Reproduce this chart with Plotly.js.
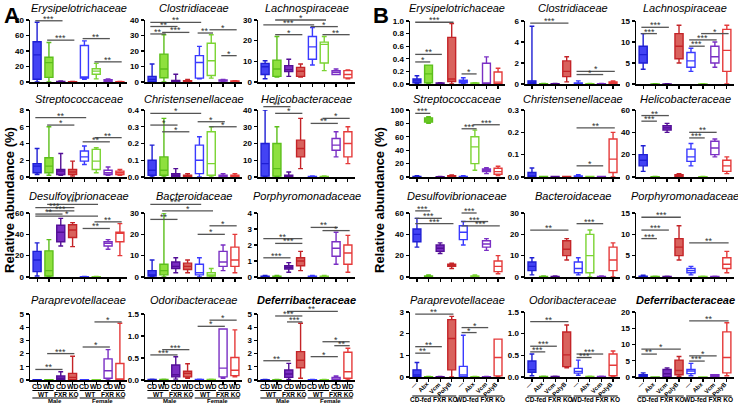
<!DOCTYPE html>
<html><head><meta charset="utf-8">
<script src="https://cdn.plot.ly/plotly-3.0.1.min.js"></script>
<style>html,body{margin:0;padding:0;background:#fff}#chart{width:738px;height:404px}</style>
</head><body><div id="chart"></div>
<script>
// ---------------- categories & tick labels ----------------
const ticksA = ['CD','WD','CD','WD','CD','WD','CD','WD'];
const ticksB = ['\u2014','Abx','Vcm','PolyB','\u2014','Abx','Vcm','PolyB'];
const titlesA = ['Erysipelotrichaceae','Clostridiaceae','Lachnospiraceae','Streptococcaceae','Christensenellaceae','Helicobacteraceae','Desulfovibrionaceae','Bacteroidaceae','Porphyromonadaceae','Paraprevotellaceae','Odoribacteraceae','Deferribacteraceae'];
const titlesB = titlesA.slice();

// ---------------- box statistics [lower, q1, median, q3, upper] ----------------
// Panel A
const A_Erysipelotrichaceae = [[0,3.5,35,52,77],[0,6,25,32,51],[0,0,0.3,0.8,1.5],[0,0,0.1,0.3,0.6],[3.5,5,6.5,47,53],[4,10,14,17,24],[0,1,2,3,4],[0,0,0.1,0.3,0.6]];
const A_Clostridiaceae = [[0,0.4,1.7,3.6,11.6],[0,2.7,8.4,18,30.5],[0,0.1,0.4,1,5],[0,0.1,0.3,0.8,1.7],[2,2.5,12.6,17,23],[2.5,4.2,13.7,25,30.5],[0,0.6,1,1.4,1.6],[0,0.1,0.3,0.6,0.9]];
const A_Lachnospiraceae = [[1.6,3.6,7.4,9,10.3],[2.4,2.7,6.3,10.6,22],[2.7,5,6,7.9,11],[2.4,2.7,5.2,7.1,8.7],[8.2,11,17,22,26.4],[5.5,9.2,18.2,19.3,22],[3.6,3.6,4.7,5.5,6.3],[1.6,2,3.6,5.5,5.8]];
const A_Streptococcaceae = [[0.3,0.5,1.3,1.6,3.4],[0.2,0.5,1.3,2.3,6],[0.2,0.3,0.7,0.9,2.8],[0.1,0.3,0.6,0.9,1.9],[1.5,1.9,2.4,3.1,3.7],[0.5,0.9,1.9,3.3,3.5],[0.2,0.3,0.5,0.8,1.2],[0.2,0.3,0.5,0.7,0.9]];
const A_Christensenellaceae = [[0,0.01,0.04,0.1,0.19],[0,0.01,0.04,0.12,0.35],[0,0,0.01,0.02,0.05],[0,0,0.005,0.01,0.02],[0,0.02,0.1,0.19,0.24],[0,0.01,0.08,0.27,0.3],[0,0,0.005,0.01,0.02],[0,0,0.005,0.01,0.02]];
const A_Helicobacteraceae = [[0,0.5,8,20,40],[0,0.5,5,20,30],[0,0.2,0.5,1,3],[5,12,17,22,35],[0,0,0.1,0.3,0.6],[0,0,0.1,0.3,0.6],[12,16,19,23,27],[8,12,20,27,30]];
const A_Desulfovibrionaceae = [[1,5,16,24,32],[0,1,6,24.5,35],[29,33,42,48.5,55],[28.5,37,44,49,51],[0,0,0.1,0.3,0.6],[0,0,0.1,0.3,0.6],[26,29,31.5,33,35],[20,33,41,42,50]];
const A_Bacteroidaceae = [[0,0.5,1,3,8],[0,1,3,6,30],[2,4,5,7,9],[2,3.5,5,6.5,8],[0,1,2,6,9],[0,0.5,1,2,4],[3,5,7,12,15],[2,5,8,14,20]];
const A_Porphyromonadaceae = [[0,0,0.02,0.05,0.1],[0,0,0.02,0.05,0.1],[0.3,0.5,0.6,0.7,0.9],[0.4,0.7,1,1.2,1.6],[0,0,0.02,0.05,0.1],[0,0,0.02,0.05,0.1],[0.8,1.3,1.8,2.2,2.8],[0.3,0.8,1.5,2,2.6]];
const A_Paraprevotellaceae = [[0,0,0.01,0.02,0.03],[0,0,0.01,0.02,0.03],[0,0.05,0.13,0.3,0.63],[0,0.02,0.2,0.5,1.8],[0,0,0.01,0.02,0.03],[0,0,0.01,0.02,0.03],[0,0.13,0.7,1.6,2.3],[0,0,0.01,1.25,4.3]];
const A_Odoribacteraceae = [[0,0,0.005,0.01,0.02],[0,0,0.005,0.01,0.02],[0.02,0.07,0.12,0.34,0.53],[0.04,0.07,0.15,0.2,0.37],[0,0,0.005,0.01,0.02],[0,0,0.005,0.01,0.02],[0.04,0.07,0.27,1.16,1.16],[0.07,0.1,0.22,0.51,1.14]];
const A_Deferribacteraceae = [[0,0,0.01,0.02,0.04],[0,0,0.01,0.02,0.04],[0.05,0.2,0.45,0.76,1.26],[0.13,0.93,1.5,2.15,4.3],[0,0,0.01,0.02,0.04],[0,0,0.01,0.02,0.04],[0,0.01,0.03,0.2,0.3],[0,0.13,0.63,2.1,2.4]];
// Panel B
const B_Erysipelotrichaceae = [[0.01,0.02,0.05,0.08,0.13],[0,0.02,0.16,0.3,0.3],[0,0.005,0.01,0.015,0.02],[0,0.04,0.08,0.74,0.96],[0,0.02,0.04,0.06,0.1],[0,0.005,0.01,0.015,0.02],[0,0,0.005,0.33,0.43],[0,0.005,0.03,0.19,0.25]];
const B_Clostridiaceae = [[0,0.05,0.1,0.3,5.5],[0,0,0.01,0.02,0.05],[0,0,0.01,0.02,0.05],[0.2,0.7,1.2,2.2,2.6],[0,0.02,0.05,0.1,0.3],[0,0,0.01,0.02,0.05],[0,0,0.01,0.02,0.05],[0,0.05,0.1,0.2,0.3]];
const B_Lachnospiraceae = [[3.5,5,7,9,12],[0,0,0.01,0.02,0.05],[0,0,0.01,0.02,0.05],[5,6,9,12,14],[3,4,5.5,7.5,8.5],[0,0,0.01,0.02,0.05],[4,5,6.5,9,10],[0,3,8,13,14]];
const B_Streptococcaceae = [[0,0,0.5,1,2],[80,82,85,88,90],[0,0,0.2,0.5,1],[0,0.5,1,2,3],[0,0,0.5,1,2],[10,20,45,60,70],[5,8,10,12,14],[2,4,8,13,16]];
const B_Christensenellaceae = [[0,0,0.005,0.02,0.04],[0,0,0.001,0.002,0.003],[0,0,0.001,0.002,0.003],[0,0,0.001,0.002,0.003],[0,0,0.002,0.005,0.01],[0,0,0.001,0.002,0.003],[0,0,0.001,0.002,0.003],[0,0.02,0.08,0.17,0.2]];
const B_Helicobacteraceae = [[5,10,15,20,28],[0,0,0.1,0.3,0.5],[40,42,44,46,48],[0,0.5,1,2,3],[10,14,18,25,30],[0,0,0.1,0.3,0.5],[18,20,26,32,34],[3,5,10,15,18]];
const B_Desulfovibrionaceae = [[28,33,40,45,55],[0,0,0.5,1,2],[22,24,27,30,32],[8,10,11,12,13],[30,35,42,48,52],[0,0,0.5,1,2],[25,28,31,34,36],[3,5,10,15,20]];
const B_Bacteroidaceae = [[1,3,5,7,9],[0,0,0.1,0.3,0.5],[0,0,0.1,0.3,0.5],[8,10,13,17,18],[1,2,4,7,9],[0,2,10,20,22],[0,0,0.1,0.3,0.5],[0,3,8,14,16]];
const B_Porphyromonadaceae = [[0,0,0.1,0.2,0.4],[0,0,0.05,0.1,0.2],[0,0,0.05,0.1,0.2],[4,5,7,9,12],[0.5,1,1.5,2,2.5],[0,0,0.05,0.1,0.2],[0,0,0.05,0.1,0.2],[1,2,3,4.5,6]];
const B_Paraprevotellaceae = [[0,0.02,0.1,0.33,0.67],[0,0,0.005,0.01,0.02],[0,0,0.005,0.01,0.02],[0,0.33,1.78,2.65,2.8],[0,0.02,0.1,0.49,1.93],[0,0,0.005,0.01,0.02],[0,0,0.005,0.01,0.02],[0,0.05,0.9,1.75,1.75]];
const B_Odoribacteraceae = [[0.03,0.11,0.17,0.37,0.53],[0,0,0.005,0.01,0.02],[0,0,0.005,0.01,0.02],[0.21,0.24,0.51,1.04,1.2],[0.04,0.09,0.13,0.2,0.39],[0,0,0.005,0.01,0.02],[0,0,0.005,0.01,0.02],[0,0.03,0.27,0.53,0.6]];
const B_Deferribacteraceae = [[0,0.2,0.42,0.74,1.26],[0,0,0.01,0.02,0.05],[0,0.1,1,2.3,2.8],[0.2,0.7,2,5.2,6.3],[0.4,1.05,1.8,2.3,4.2],[0,0,0.01,0.02,0.05],[0,0.05,0.2,0.74,0.74],[0.4,1.26,6,13.9,16.7]];

// ---------------- significance brackets [from, to, level, label] ----------------
const A_sig = [
  [[0,2,79,'***'],[1,3,54,'***'],[4,6,56,'**'],[5,7,26,'**']],
  [[0,4,38.5,'**'],[0,2,35.8,'**'],[0,1,31,'**'],[1,3,32,'***'],[4,5,31.6,'**'],[5,7,33.7,'*'],[6,7,17,'*']],
  [[1,5,30,'*'],[0,4,27.6,'***'],[4,6,26.8,'*'],[1,3,22.9,'*'],[5,7,22.9,'**']],
  [[0,4,7.1,'**'],[1,3,6.2,'*'],[4,6,4.2,'**'],[5,7,4.7,'**']],
  [[0,4,0.38,'*'],[0,2,0.31,'*'],[1,3,0.27,'*'],[4,6,0.33,'*'],[5,7,0.3,'*']],
  [[0,4,45,'*'],[0,2,42,'**'],[1,3,38,'*'],[4,6,32,'**'],[5,7,35,'*']],
  [[1,5,68,'***'],[0,3,65,'***'],[1,3,62,'***'],[0,2,59,'**'],[0,5,57,'*'],[5,7,51.7,'**'],[4,6,45.5,'**']],
  [[0,4,34,'***'],[1,5,31,'*'],[0,2,27,'**'],[4,6,20,'*'],[5,7,24,'*']],
  [[0,2,1.2,'***'],[1,3,2.1,'***'],[0,3,2.4,'**'],[4,6,3.1,'**'],[5,7,2.9,'*']],
  [[0,2,0.8,'**'],[1,3,2.0,'***'],[4,6,2.5,'*'],[5,7,4.4,'*']],
  [[0,2,0.57,'***'],[1,3,0.69,'***'],[4,6,1.22,'*'],[5,7,1.36,'*']],
  [[2,6,5.2,'**'],[1,3,4.85,'***'],[2,3,4.4,'***'],[0,2,1.46,'**'],[4,6,1.77,'*'],[5,7,2.9,'*'],[6,7,2.6,'**']]
];
const B_sig = [
  [[0,3,0.98,'***'],[0,2,0.47,'**'],[0,1,0.35,'*'],[4,5,0.16,'*']],
  [[0,3,5.8,'***'],[4,6,0.9,'*'],[4,7,1.2,'*']],
  [[0,1,12,'***'],[0,2,13.5,'***'],[4,5,9,'***'],[4,6,10.5,'***'],[5,7,12,'*']],
  [[0,1,95,'***'],[4,5,72,'***'],[5,7,78,'***']],
  [[4,7,0.22,'**'],[4,6,0.05,'*']],
  [[0,2,55,'**'],[0,1,50,'***'],[4,6,40,'**'],[4,5,35,'***']],
  [[0,1,62,'***'],[0,2,55,'***'],[0,3,50,'***'],[4,5,60,'***'],[4,6,52,'***'],[4,7,48,'***']],
  [[0,3,22,'**'],[4,6,25,'***']],
  [[0,3,14,'***'],[0,2,11,'***'],[0,1,9,'***'],[4,7,8,'**']],
  [[0,3,2.9,'**'],[0,2,1.4,'**'],[0,1,1.1,'**'],[4,6,2.28,'*'],[4,5,2.05,'*']],
  [[0,3,1.28,'**'],[0,2,0.71,'***'],[0,1,0.58,'***'],[4,6,0.53,'***'],[4,5,0.45,'***']],
  [[0,3,8.6,'*'],[0,1,7.05,'**'],[4,7,17.3,'**'],[4,6,6.5,'*'],[4,5,4.9,'***']]
];

// ---------------- axis scales ----------------
const yMaxA = [80,40,30,8,0.4,40,60,30,4,5,1.5,5];
const dtickA = [20,10,10,2,0.1,10,20,10,1,1,0.5,1];
const yMaxB = [1,6,15,100,0.3,60,60,30,15,3,1.5,20];
const dtickB = [0.2,2,5,20,0.1,20,20,10,5,1,0.5,5];

const panelA = [A_Erysipelotrichaceae,A_Clostridiaceae,A_Lachnospiraceae,A_Streptococcaceae,A_Christensenellaceae,A_Helicobacteraceae,A_Desulfovibrionaceae,A_Bacteroidaceae,A_Porphyromonadaceae,A_Paraprevotellaceae,A_Odoribacteraceae,A_Deferribacteraceae];
const panelB = [B_Erysipelotrichaceae,B_Clostridiaceae,B_Lachnospiraceae,B_Streptococcaceae,B_Christensenellaceae,B_Helicobacteraceae,B_Desulfovibrionaceae,B_Bacteroidaceae,B_Porphyromonadaceae,B_Paraprevotellaceae,B_Odoribacteraceae,B_Deferribacteraceae];

// ---------------- styling / layout ----------------
const W = 738, H = 404;
const FONT = 'Liberation Sans, Arial, sans-serif';
const fillCol = ['#4343f4','#8ee03e','#7a2dc2','#d9625d'];
const lineFilled = ['#1f1fd4','#5cbf1b','#530f96','#c42428'];
const lineOpen = ['#3a3aff','#7bd433','#7a2fc4','#e53a3a'];
const colsA = [[30,127],[145,242],[258,355]];
const colsB = [[410,505],[525,620],[636,734]];
const rowsA = [[20,82],[110,177],[213,277],[314,380]];
const rowsB = [[21,84],[110,177],[213,277],[312,377]];
const titleY = [8,99,196,300];

const traces = [];
const layout = {
  width: W, height: H, margin: {l:0, r:0, t:0, b:0}, showlegend: false,
  boxmode: 'overlay', paper_bgcolor: '#fff', plot_bgcolor: 'rgba(0,0,0,0)',
  font: {family: FONT, color: '#000'}, annotations: [], shapes: []
};

function fmtFor(d){ return d < 1 ? '.1f' : 'd'; }
const yp = v => 1 - v/H;

[[panelA, titlesA, A_sig, yMaxA, dtickA, colsA, rowsA, ticksA],
 [panelB, titlesB, B_sig, yMaxB, dtickB, colsB, rowsB, ticksB]].forEach((P, p) => {
  const [data, titles, sig, yMax, dtick, cols, rows, tks] = P;
  for (let s = 0; s < 12; s++) {
    const idx = p*12 + s, n = idx + 1, nb = idx + 25;
    const r = Math.floor(s/3), c = s % 3;
    const [x0, x1] = cols[c], [top, bot] = rows[r];
    const dom = [x0/W, x1/W];
    const last = r === 3;
    layout['xaxis'+n] = {
      domain: dom, range: [-0.6, 7.6], anchor: 'y'+n, type: 'linear',
      showline: true, linecolor: '#000', linewidth: 1.5,
      ticks: 'outside', ticklen: 3, tickwidth: 1.2, tickcolor: '#000',
      tickmode: 'array', tickvals: [0,1,2,3,4,5,6,7], showticklabels: false,
      showgrid: false, zeroline: false, fixedrange: true
    };
    layout['yaxis'+n] = {
      domain: [1-bot/H, 1-top/H], range: [0, yMax[s]], anchor: 'x'+n,
      showline: true, linecolor: '#000', linewidth: 1.5,
      ticks: 'outside', ticklen: 3, tickwidth: 1.2, tickcolor: '#000',
      tick0: 0, dtick: dtick[s], tickformat: fmtFor(dtick[s]),
      tickfont: {family: FONT, size: 8, weight: 'bold', color: '#000'},
      showgrid: false, zeroline: false, fixedrange: true
    };
    // overlay axes for brackets (same scale, taller area)
    const btop = titleY[r] + 7;
    const ext = yMax[s] * (bot - btop) / (bot - top);
    layout['xaxis'+nb] = {domain: dom, range: [-0.6, 7.6], anchor: 'y'+nb, visible: false, fixedrange: true};
    layout['yaxis'+nb] = {domain: [1-bot/H, 1-btop/H], range: [0, ext], anchor: 'x'+nb, visible: false, fixedrange: true};

    // boxes
    data[s].forEach((b, k) => {
      const g = k % 4, filled = k < 4;
      traces.push({
        type: 'box', x: [k], lowerfence: [b[0]], q1: [b[1]], median: [b[2]], q3: [b[3]], upperfence: [b[4]],
        xaxis: 'x'+n, yaxis: 'y'+n, width: 0.68, whiskerwidth: 0.6,
        line: {color: filled ? lineFilled[g] : lineOpen[g], width: 1.4},
        fillcolor: filled ? fillCol[g] : '#ffffff',
        boxpoints: false, hoverinfo: 'skip'
      });
    });
    // brackets
    const bx = [], by = [];
    sig[s].forEach(([i, j, yv, lab]) => {
      bx.push(i - 0.15, j + 0.15, null); by.push(yv, yv, null);
      layout.annotations.push({xref: 'x'+nb, yref: 'y'+nb, x: (i+j)/2, y: yv, text: lab,
        showarrow: false, yanchor: 'bottom', yshift: -5,
        font: {family: FONT, size: 9, color: '#333'}});
    });
    traces.push({type: 'scatter', mode: 'lines', x: bx, y: by, xaxis: 'x'+nb, yaxis: 'y'+nb,
      line: {color: '#555', width: 1.3}, hoverinfo: 'skip', connectgaps: false});

    // subplot title
    layout.annotations.push({xref: 'paper', yref: 'paper', x: (x0+x1)/2/W, y: 1 - titleY[r]/H,
      text: '<i>' + titles[s] + '</i>', showarrow: false, xanchor: 'center', yanchor: 'middle',
      font: {family: FONT, size: 11, color: '#000', weight: s === 11 ? 'bold' : 'normal'}});

    // category labels and group labels under the bottom row
    if (last) {
      const line = (xa, xb, yv) => layout.shapes.push({type: 'line', xref: 'x'+n, yref: 'paper',
        x0: xa, x1: xb, y0: yp(yv), y1: yp(yv), line: {color: '#000', width: 1}});
      const txt = (xv, yv, t, sz) => layout.annotations.push({xref: 'x'+n, yref: 'paper', x: xv, y: yp(yv),
        text: t, showarrow: false, xanchor: 'center', yanchor: 'middle', borderpad: 0,
        font: {family: FONT, size: sz, weight: 'bold', color: '#000'}});
      if (p === 0) {
        tks.forEach((t, k) => txt(k, 386, t, 7));
        [[0,1,'WT'],[2,3,'FXR KO'],[4,5,'WT'],[6,7,'FXR KO']].forEach(([a,b,t]) => { line(a-0.4, b+0.4, 390.5); txt((a+b)/2, 394, t, 6.5); });
        [[0,3,'Male'],[4,7,'Female']].forEach(([a,b,t]) => { line(a-0.4, b+0.4, 398); txt((a+b)/2, 401.3, t, 6); });
      } else {
        tks.forEach((t, k) => layout.annotations.push({xref: 'x'+n, yref: 'paper', x: k + 0.25, y: yp(379.5),
          text: t, showarrow: false, xanchor: 'right', yanchor: 'top', textangle: -45, borderpad: 0,
          font: {family: FONT, size: 6, weight: 'bold', color: '#000'}}));
        [[0,3,'CD-fed FXR KO'],[4,7,'WD-fed FXR KO']].forEach(([a,b,t]) => { line(a-0.4, b+0.4, 396); txt((a+b)/2, 399.8, t, 6.5); });
      }
    }
  }
});

// panel letters & y titles
layout.annotations.push({xref:'paper', yref:'paper', x: 2/W, y: 1 - 1/H, xanchor:'left', yanchor:'top',
  text:'A', showarrow:false, font:{family:FONT, size:22, weight:'bold', color:'#000'}});
layout.annotations.push({xref:'paper', yref:'paper', x: 371/W, y: 1 - 1/H, xanchor:'left', yanchor:'top',
  text:'B', showarrow:false, font:{family:FONT, size:22, weight:'bold', color:'#000'}});
[9, 379].forEach(xp => layout.annotations.push({xref:'paper', yref:'paper', x: xp/W, y: 1 - 200/H,
  xanchor:'center', yanchor:'middle', textangle: -90, text:'Relative abundance (%)', showarrow:false,
  font:{family:FONT, size:13, weight:'bold', color:'#000'}}));

Plotly.newPlot('chart', traces, layout, {staticPlot: true, displayModeBar: false});
</script>
</body></html>
